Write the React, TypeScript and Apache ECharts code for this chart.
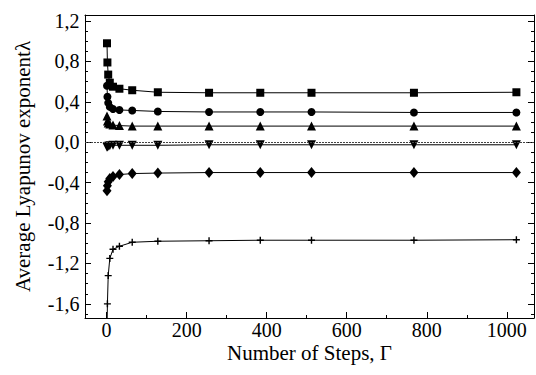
import React, { useEffect, useRef } from "react";
import * as echarts from "echarts";

const steps = [1, 2, 4, 8, 16, 32, 64, 128, 256, 384, 512, 768, 1024];
const squareSeries = [0.98, 0.79, 0.67, 0.59, 0.55, 0.53, 0.515, 0.495, 0.49, 0.49, 0.49, 0.49, 0.495];
const circleSeries = [0.56, 0.45, 0.39, 0.35, 0.33, 0.32, 0.315, 0.305, 0.3, 0.3, 0.3, 0.295, 0.295];
const triangleSeries = [0.26, 0.21, 0.19, 0.18, 0.17, 0.165, 0.16, 0.16, 0.16, 0.16, 0.16, 0.16, 0.16];
const invTriangleSeries = [-0.05, -0.045, -0.04, -0.035, -0.03, -0.03, -0.03, -0.03, -0.025, -0.025, -0.025, -0.025, -0.025];
const diamondSeries = [-0.48, -0.43, -0.39, -0.36, -0.34, -0.32, -0.31, -0.305, -0.3, -0.3, -0.3, -0.3, -0.3];
const plusSeries = [-1.9, -1.6, -1.32, -1.15, -1.06, -1.03, -0.99, -0.98, -0.975, -0.97, -0.97, -0.97, -0.965];

const xMajorTicks = [0, 200, 400, 600, 800, 1000];
const xMinorTicks = [100, 300, 500, 700, 900];
const yMajorTicks = [-1.6, -1.2, -0.8, -0.4, 0, 0.4, 0.8, 1.2];
const yMinorTicks = [-1.7, -1.5, -1.4, -1.3, -1.1, -1.0, -0.9, -0.7, -0.6, -0.5, -0.3, -0.2, -0.1, 0.1, 0.2, 0.3, 0.5, 0.6, 0.7, 0.9, 1.0, 1.1];

const X_MIN = -54;
const X_MAX = 1068;
const Y_MIN = -1.74;
const Y_MAX = 1.26;

const FONT = "Liberation Serif";
const PLUS = "path://M4,0h2v4h4v2h-4v4h-2v-4h-4v-2h4z";

function pairs(ys: number[]) {
  return steps.map((x, i) => [x, ys[i]]);
}

export default function App() {
  const ref = useRef<HTMLDivElement>(null);
  useEffect(() => {
    document.body.style.margin = "0";
    const chart = echarts.init(ref.current!, null, { renderer: "svg" });

    const axisLine = { show: true, onZero: false, lineStyle: { color: "#000", width: 1 } };
    const noLine = { show: false, onZero: false };
    const baseX = { type: "value", min: X_MIN, max: X_MAX, splitLine: { show: false } };
    const baseY = { type: "value", min: Y_MIN, max: Y_MAX, splitLine: { show: false } };
    const nameStyle = { color: "#000", fontFamily: FONT, fontSize: 21 };
    const tickStyle = { color: "#000", fontFamily: FONT, fontSize: 20 };
    const line = (data: number[], symbol: string, size: any, extra: any = {}) => ({
      type: "line",
      data: pairs(data),
      symbol,
      symbolSize: size,
      clip: true,
      lineStyle: { color: "#000", width: 1 },
      itemStyle: { color: "#000" },
      ...extra,
    });
    // tick labels drawn as invisible scatter points on the axis, labelled through the library's scales
    const tickLabels = (data: number[][], position: string, distance: number, fmt: (p: any) => string) => ({
      type: "scatter",
      data,
      symbol: "circle",
      symbolSize: 1,
      clip: false,
      silent: true,
      z: 1,
      itemStyle: { color: "rgba(0,0,0,0)" },
      label: {
        show: true,
        position,
        distance,
        formatter: fmt,
        opacity: 1,
        ...tickStyle,
      },
    });
    chart.setOption({
      animation: false,
      backgroundColor: "#fff",
      textStyle: { fontFamily: FONT },
      grid: { left: 85, right: 2, top: 15, bottom: 57 },
      xAxis: [
        {
          ...baseX,
          position: "bottom",
          axisLine,
          axisTick: { inside: true, length: 6, customValues: xMajorTicks, lineStyle: { color: "#000" } },
          axisLabel: { show: false },
          name: "Number of Steps, Γ",
          nameLocation: "middle",
          nameGap: 24,
          nameTextStyle: { ...nameStyle, verticalAlign: "top" },
        },
        {
          ...baseX,
          position: "bottom",
          axisLine: noLine,
          axisTick: { inside: true, length: 3, customValues: xMinorTicks, lineStyle: { color: "#000" } },
          axisLabel: { show: false },
        },
        {
          ...baseX,
          position: "top",
          axisLine,
          axisTick: { show: false },
          axisLabel: { show: false },
        },
      ],
      yAxis: [
        {
          ...baseY,
          position: "left",
          axisLine,
          axisTick: { inside: true, length: 6, customValues: yMajorTicks, lineStyle: { color: "#000" } },
          axisLabel: { show: false },
          name: "Average Lyapunov exponentλ",
          nameLocation: "middle",
          nameGap: 52,
          nameTextStyle: nameStyle,
        },
        {
          ...baseY,
          position: "left",
          axisLine: noLine,
          axisTick: { inside: true, length: 3, customValues: yMinorTicks, lineStyle: { color: "#000" } },
          axisLabel: { show: false },
        },
        {
          ...baseY,
          position: "right",
          axisLine,
          axisTick: { inside: true, length: 6, customValues: yMajorTicks, lineStyle: { color: "#000" } },
          axisLabel: { show: false },
        },
        {
          ...baseY,
          position: "right",
          axisLine: noLine,
          axisTick: { inside: true, length: 3, customValues: yMinorTicks, lineStyle: { color: "#000" } },
          axisLabel: { show: false },
        },
      ],
      series: [
        line(squareSeries, "rect", 8),
        line(circleSeries, "circle", 8),
        line(triangleSeries, "triangle", 9),
        line(invTriangleSeries, "triangle", 9, {
          symbolRotate: 180,
          markLine: {
            silent: true,
            symbol: ["none", "none"],
            label: { show: false },
            lineStyle: { color: "#444", width: 1, type: [2, 1] },
            data: [{ yAxis: 0 }],
          },
        }),
        line(diamondSeries, "diamond", [9, 11]),
        line(plusSeries, PLUS, 7),
        tickLabels(
          xMajorTicks.map((v) => [v, Y_MIN]),
          "bottom",
          1,
          (p: any) => String(p.value[0])
        ),
        tickLabels(
          yMajorTicks.map((v) => [X_MIN, v]),
          "left",
          5,
          (p: any) => p.value[1].toFixed(1).replace(".", ",")
        ),
      ],
    });
    return () => chart.dispose();
  }, []);
  return <div ref={ref} style={{ width: 536, height: 375, position: "absolute", left: 0, top: 0 }} />;
}
